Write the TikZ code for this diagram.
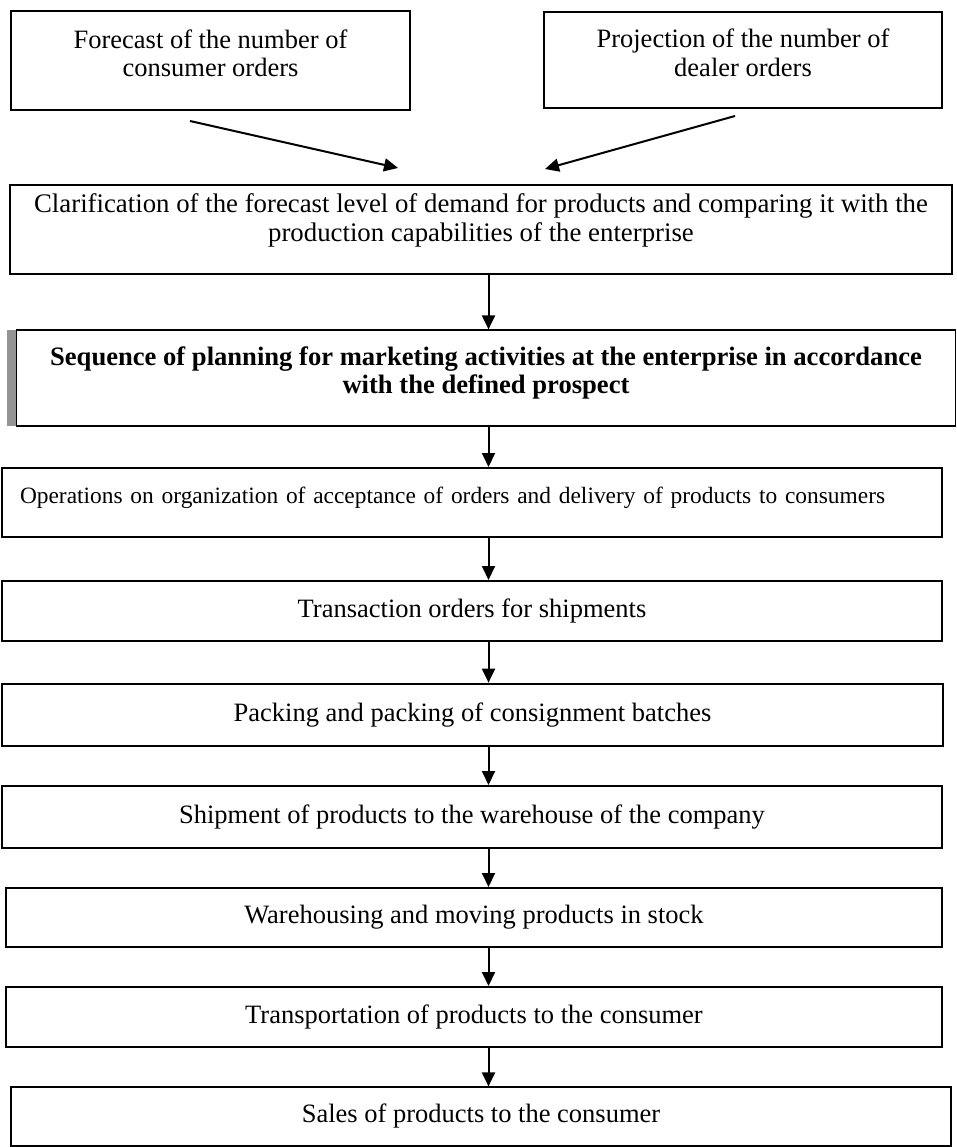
\documentclass[tikz,border=0pt]{standalone}
\usepackage{fontspec}
\setmainfont{Liberation Serif}
\usetikzlibrary{arrows.meta}
\begin{document}
\begin{tikzpicture}[x=1pt,y=-1pt,
  box/.style={draw, line width=2pt, rectangle, inner sep=0pt, align=center,
    font=\fontsize{26.5}{28.5}\selectfont, text height=18pt, text depth=6pt},
  thinbox/.style={box, line width=1.2pt},
  thickbox/.style={box, line width=2.7pt},
  arr/.style={line width=2pt, -{Triangle[length=14pt,width=13pt]}},
]
\useasboundingbox (0,0) rectangle (957,1147);

% boxes
\node[box, minimum width=399pt, minimum height=99pt, text height=39pt] (b1) at (210.5,60.5)
  {Forecast of the number of\\consumer orders};
\node[box, minimum width=398pt, minimum height=96pt, text height=39pt] (b2) at (743,60)
  {Projection of the number of\\dealer orders};
\node[box, minimum width=942pt, minimum height=89pt, text height=31pt,
  font=\fontsize{26.8}{29}\selectfont] (b3) at (481,229.5)
  {Clarification of the forecast level of demand for products and comparing it with the\\production capabilities of the enterprise};
\fill[black!42] (7,330) rectangle (16,426);
\node[thinbox, minimum width=939pt, minimum height=96pt, text height=36pt,
  font=\bfseries\fontsize{26.6}{28}\selectfont] (b4) at (486,378)
  {Sequence of planning for marketing activities at the enterprise in accordance\\with the defined prospect};
\node[box, minimum height=69pt, text width=904pt, inner xsep=18pt, align=left,
  font=\fontsize{23.4}{27}\selectfont, text depth=17pt] (b5) at (472,502.5)
  {Operations on organization of acceptance of orders and delivery of products to consumers};
\node[box, minimum width=940pt, minimum height=60pt] (b6) at (472,611)
  {Transaction orders for shipments};
\node[thickbox, minimum width=941pt, minimum height=62pt] (b7) at (472.5,715)
  {Packing and packing of consignment batches};
\node[box, minimum width=940pt, minimum height=62pt] (b8) at (472,817)
  {Shipment of products to the warehouse of the company};
\node[box, minimum width=936pt, minimum height=59pt] (b9) at (474,917.5)
  {Warehousing and moving products in stock};
\node[box, minimum width=936pt, minimum height=60pt] (b10) at (474,1017)
  {Transportation of products to the consumer};
\node[thinbox, minimum width=940pt, minimum height=59pt] (b11) at (481,1116.5)
  {Sales of products to the consumer};

% connectors
\coordinate (s1) at (190,121);
\coordinate (e1) at (398,168);
\coordinate (s2) at (735,116);
\coordinate (e2) at (545,169);
\draw[arr] (s1) -- (e1);
\draw[arr] (s2) -- (e2);
\coordinate (axis) at (488.5,0);
\draw[arr] (b3.south -| axis) -- (b4.north -| axis);
\draw[arr] (b4.south -| axis) -- (b5.north -| axis);
\draw[arr] (b5.south -| axis) -- (b6.north -| axis);
\draw[arr] (b6.south -| axis) -- (b7.north -| axis);
\draw[arr] (b7.south -| axis) -- (b8.north -| axis);
\draw[arr] (b8.south -| axis) -- (b9.north -| axis);
\draw[arr] (b9.south -| axis) -- (b10.north -| axis);
\draw[arr] (b10.south -| axis) -- (b11.north -| axis);
\end{tikzpicture}
\end{document}
